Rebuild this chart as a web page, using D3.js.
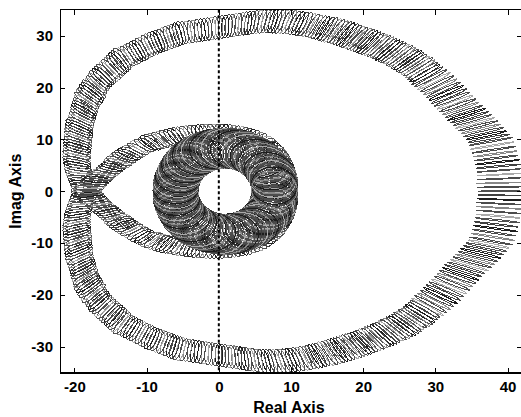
<!DOCTYPE html>
<html><head><meta charset="utf-8">
<script src="https://cdn.jsdelivr.net/npm/d3@7"></script>
<style>body{margin:0;background:#fff}svg{display:block}</style>
</head><body><svg id="c" width="521" height="417"></svg>
<script>
// ---------------- data ----------------
const xTicks = [-20, -10, 0, 10, 20, 30, 40];
const yTicks = [-30, -20, -10, 0, 10, 20, 30];
const xDomain = [-22, 42];
const yDomain = [-35, 35];
const xLabel = "Real Axis";
const yLabel = "Imag Axis";

// Nyquist template centres (one frequency branch; the other branch is its complex conjugate)
const bandRe = [
39.0,39.0,38.9,38.9,38.8,38.8,38.7,38.6,38.4,38.3,38.1,37.9,37.7,
37.4,37.05,36.7,36.3,35.9,35.5,35.1,34.7,34.3,33.9,33.5,33.1,32.7,32.3,31.9,31.5,31.1,30.7,30.25,29.8,29.35,28.9,
28.55,28.25,27.9,27.6,27.25,26.85,26.5,26.15,25.8,25.4,25.0,24.6,24.2,23.8,23.4,23.0,22.6,22.15,21.75,21.35,20.9,20.5,
20.1,19.65,19.25,18.85,18.4,18.0,17.55,17.1,16.65,16.2,15.75,15.3,14.85,14.35,13.9,13.4,12.95,12.5,12.0,11.5,11.0,10.5,10.0,9.5,
9.0,8.5,8.0,7.5,7.0,6.5,6.0,5.5,5.0,4.5,4.05,3.6,3.15,2.7,2.25,1.8,1.35,0.9,0.45,0.0,
-0.48,-0.96,-1.45,-1.93,-2.41,-2.89,-3.37,-3.85,-4.34,-4.82,-5.3,
-5.72,-6.14,-6.56,-6.98,-7.4,-7.82,-8.24,-8.66,-9.08,-9.5,
-9.89,-10.28,-10.67,-11.06,-11.45,-11.84,-12.23,-12.62,-13.01,-13.4,
-13.71,-14.02,-14.33,-14.64,-14.95,-15.26,-15.57,-15.88,-16.19,-16.5,
-16.7,-16.9,-17.1,-17.3,-17.5,-17.7,-17.9,-18.1,-18.3,
-18.4,-18.5,-18.6,-18.7,-18.8,-18.9,-19.0,-19.1,-19.2,-19.3,
-19.35,-19.4,-19.45,-19.5,-19.52,-19.55,-19.58,-19.61,-19.64,-19.67,-19.7,
-19.7,-19.7,-19.65,-19.6,-19.55,-19.5,
-19.4,-19.3,-19.18,-19.05,-18.9,-18.75,-18.58,-18.4,-18.18,-17.95,
-17.7,-17.45,-17.18,-16.9,-16.6,-16.3,-15.98,-15.65,-15.32,-15.0,
-14.7,-14.4,-14.1,-13.8,-13.48,-13.15,-12.8,-12.45,-12.05,-11.65,
-11.22,-10.8,-10.35,-9.9,-9.45,-9.0,-8.52,-8.05,-7.58,-7.1,
-6.6,-6.1,-5.6,-5.1,-4.6,-4.1,-3.6,-3.1,-2.6,-2.1,
-1.6,-1.1,-0.6,-0.1,0.4,0.9,1.4,1.9,2.4,2.9,
3.38,3.85,4.32,4.8,5.25,5.7];
const bandIm = [
0.0,0.8,1.6,2.4,3.2,4.0,4.8,5.6,6.4,7.2,8.0,8.8,9.6,
10.2,10.8,11.4,12.0,12.6,13.15,13.7,14.25,14.8,15.35,15.95,16.55,17.15,17.75,18.35,18.95,19.55,20.15,20.7,21.25,21.8,22.3,
22.75,23.15,23.6,24.0,24.3,24.6,24.95,25.25,25.55,25.9,26.15,26.45,26.7,26.95,27.25,27.5,27.75,28.0,28.2,28.45,28.65,28.9,
29.1,29.3,29.5,29.7,29.9,30.1,30.3,30.5,30.65,30.85,31.0,31.2,31.35,31.5,31.65,31.8,31.95,32.1,32.2,32.3,32.4,32.5,32.6,32.7,
32.72,32.75,32.78,32.8,32.8,32.8,32.75,32.7,32.6,32.5,32.43,32.35,32.25,32.15,32.05,31.95,31.88,31.8,31.7,31.6,
31.5,31.4,31.3,31.2,31.1,31.0,30.9,30.8,30.7,30.6,30.5,
30.3,30.08,29.86,29.64,29.4,29.18,28.96,28.74,28.52,28.3,
28.02,27.74,27.46,27.18,26.9,26.62,26.34,26.06,25.78,25.5,
25.1,24.7,24.3,23.9,23.5,23.1,22.7,22.3,21.9,21.5,
21.05,20.6,20.15,19.7,19.3,18.85,18.4,17.95,17.5,
17.0,16.5,16.0,15.5,15.0,14.5,14.0,13.5,13.0,12.5,
12.0,11.5,11.0,10.5,10.0,9.5,9.0,8.5,8.0,7.5,7.0,
6.5,6.0,5.5,5.0,4.5,4.0,
3.5,3.0,2.52,2.05,1.58,1.1,0.65,0.2,-0.23,-0.65,
-1.05,-1.45,-1.83,-2.2,-2.58,-2.95,-3.3,-3.65,-4.03,-4.4,
-4.75,-5.1,-5.45,-5.8,-6.15,-6.5,-6.83,-7.15,-7.48,-7.8,
-8.18,-8.55,-8.83,-9.1,-9.33,-9.55,-9.75,-9.95,-10.13,-10.3,
-10.45,-10.6,-10.73,-10.85,-10.95,-11.05,-11.13,-11.2,-11.25,-11.3,
-11.33,-11.35,-11.35,-11.35,-11.33,-11.3,-11.23,-11.15,-11.05,-10.95,
-10.8,-10.65,-10.45,-10.25,-10.0,-9.75];
// template size along the band: [first point index, relative gain spread]
const bandGainTable = [[0,0.078],[13,0.075],[35,0.072],[70,0.069],[111,0.072],[131,0.08],[145,0.088],[160,0.096],[185,0.11],[200,0.125],[212,0.14]];
// template size along the band: [first point index, phase spread in degrees]
const bandPhaseTable = [[0,0.12],[6,0.2],[13,0.3],[24,0.4],[35,0.5],[55,0.65],[75,0.8],[95,0.9],[111,1.0],[131,1.15],[150,1.3],[165,1.5],[185,1.9],[200,2.3],[212,2.8]];

// high-frequency part, in polar form (phase in degrees, magnitude, relative gain spread)
const ringPhase = [-56,-53,-50,-47,-44,-41,-38,-35,-32,-29,-26,-23,-20,-17,-14,-11,-8,-5,-2,
1,4,7,10,13,16,19,22,25,28,31,34,37,40,43,46,49,52,55,58,61,64,67,70,73,76,79,82,85,88,91,94,97,100,103,106,109,112,115,118,121,124,127,130,133,136,139,142,145,148,151,154,157,160,163,166,169,172,175,178,181,
184,187,190,193,196,199,202,205,208,211,214,217,220,223,226,229,232,235,238,241,244,247,250,253,256,259,262,265,268,271,274,277,280,283,286,289,292,295,298,301,304,307,310,313,316,319,322,325,328,331,334,337,340,343,346,349,352,355,358];
const ringMag = [10.95,10.7,10.45,10.2,9.95,9.7,9.45,9.2,9.0,8.8,8.6,8.45,8.3,8.15,8.05,7.95,7.85,7.78,7.73,
7.70,7.70,7.71,7.72,7.74,7.76,7.79,7.82,7.85,7.89,7.93,7.97,8.02,8.07,8.11,8.16,8.21,8.25,8.30,8.34,8.37,8.40,8.42,8.43,8.43,8.43,8.41,8.39,8.34,8.29,8.24,8.16,8.08,8.00,7.90,7.80,7.69,7.59,7.48,7.37,7.25,7.15,7.04,6.93,6.83,6.73,6.64,6.55,6.47,6.40,6.33,6.27,6.21,6.16,6.12,6.08,6.05,6.03,6.01,6.00,6.00,
6.00,6.01,6.03,6.05,6.08,6.12,6.16,6.21,6.27,6.33,6.40,6.47,6.55,6.64,6.73,6.83,6.93,7.04,7.15,7.25,7.37,7.48,7.59,7.69,7.80,7.90,8.00,8.08,8.16,8.24,8.29,8.34,8.39,8.41,8.43,8.43,8.43,8.42,8.40,8.37,8.34,8.30,8.25,8.21,8.16,8.11,8.07,8.02,7.97,7.93,7.89,7.85,7.82,7.79,7.76,7.74,7.72,7.71,7.70];
const ringGainTol = [0.16,0.18,0.195,0.21,0.23,0.25,0.265,0.28,0.30,0.315,0.33,0.345,0.36,0.375,0.385,0.395,0.40,0.405,0.41,
0.41,0.41,0.41,0.41,0.41,0.41,0.41,0.415,0.415,0.415,0.415,0.42,0.42,0.42,0.425,0.425,0.43,0.43,0.43,0.435,0.44,0.44,0.445,0.45,0.45,0.455,0.46,0.46,0.46,0.465,0.465,0.47,0.47,0.475,0.48,0.48,0.485,0.485,0.49,0.49,0.49,0.495,0.495,0.50,0.50,0.50,0.505,0.505,0.51,0.51,0.51,0.515,0.515,0.515,0.52,0.52,0.52,0.52,0.52,0.52,0.52,
0.52,0.52,0.52,0.52,0.52,0.52,0.515,0.515,0.515,0.51,0.51,0.51,0.505,0.505,0.50,0.50,0.50,0.495,0.495,0.49,0.49,0.49,0.485,0.485,0.48,0.48,0.475,0.47,0.47,0.465,0.465,0.46,0.46,0.46,0.455,0.45,0.45,0.445,0.44,0.44,0.435,0.43,0.43,0.43,0.425,0.425,0.42,0.42,0.42,0.415,0.415,0.415,0.415,0.41,0.41,0.41,0.41,0.41,0.41];
// phase spread of the high-frequency templates: [first point index, degrees]
const ringPhaseTable = [[0,5],[3,9],[6,13],[9,17],[12,21],[15,25]];

// MATLAB colour order as it appears in greyscale
const lineGrays = ["#1d1d1d", "#4b4b4b", "#868686", "#4c4c4c", "#a9a9a9", "#4f4f4f", "#404040"];

// ---------------- drawing ----------------
const W = 521, H = 417;
const L = 60, R = 522, T = 9.8, B = 372.6;
const svg = d3.select("#c");
const x = d3.scaleLinear().domain(xDomain).range([L, R]);
const y = d3.scaleLinear().domain(yDomain).range([B, T]);
const font = "'Liberation Sans', Arial, Helvetica, sans-serif";

svg.append("clipPath").attr("id", "clip")
  .append("rect").attr("x", L).attr("y", T).attr("width", R - L).attr("height", B - T);

function fromTable(table, i) {
  let v = table[0][1];
  for (const [start, val] of table) if (i >= start) v = val;
  return v;
}

const tpl = [];
const nb = Math.min(bandRe.length, bandIm.length);
for (let i = 0; i < nb; i++) {
  tpl.push({ re: bandRe[i], im: bandIm[i], g: fromTable(bandGainTable, i), p: fromTable(bandPhaseTable, i) });
}
const nr = Math.min(ringPhase.length, ringMag.length, ringGainTol.length);
for (let i = 0; i < nr; i++) {
  const a = ringPhase[i] * Math.PI / 180;
  tpl.push({ re: ringMag[i] * Math.cos(a), im: ringMag[i] * Math.sin(a), g: ringGainTol[i], p: fromTable(ringPhaseTable, i) });
}
const all = [];
tpl.forEach(t => all.push(t));
tpl.forEach(t => all.push({ re: t.re, im: -t.im, g: t.g, p: t.p }));

const N = 48;
const line = d3.line().curve(d3.curveLinearClosed);
function ellipsePath(t) {
  const r = Math.hypot(t.re, t.im);
  const ux = t.re / r, uy = t.im / r;
  const a = t.g * r, b = r * Math.tan(t.p * Math.PI / 180);
  const pts = [];
  for (let j = 0; j < N; j++) {
    const th = 2 * Math.PI * j / N;
    const c = Math.cos(th) * a, s = Math.sin(th) * b;
    pts.push([x(t.re + c * ux - s * uy), y(t.im + c * uy + s * ux)]);
  }
  return line(pts);
}

svg.append("g").attr("clip-path", "url(#clip)")
  .selectAll("path").data(all).join("path")
  .attr("d", ellipsePath)
  .attr("fill", "none")
  .attr("stroke", (d, i) => lineGrays[i % lineGrays.length])
  .attr("stroke-width", 1)
  .attr("shape-rendering", "crispEdges");

// dotted line on the imaginary axis
svg.append("line")
  .attr("x1", x(0)).attr("x2", x(0)).attr("y1", y(yDomain[1])).attr("y2", y(yDomain[0]))
  .attr("stroke", "#000").attr("stroke-width", 2).attr("stroke-dasharray", "3,2.5");

// axes
const fmt = d => String(d);
const gb = svg.append("g").attr("transform", `translate(0,${B})`)
  .call(d3.axisBottom(x).tickValues(xTicks).tickSizeInner(-5).tickSizeOuter(0).tickPadding(9).tickFormat(fmt));
const gt = svg.append("g").attr("transform", `translate(0,${T})`)
  .call(d3.axisTop(x).tickValues(xTicks).tickSizeInner(-5).tickSizeOuter(0).tickFormat(""));
const gl = svg.append("g").attr("transform", `translate(${L},0)`)
  .call(d3.axisLeft(y).tickValues(yTicks).tickSizeInner(-5).tickSizeOuter(0).tickPadding(7).tickFormat(fmt));
const gr = svg.append("g").attr("transform", `translate(${R},0)`)
  .call(d3.axisRight(y).tickValues(yTicks).tickSizeInner(-5).tickSizeOuter(0).tickFormat(""));
[gb, gt, gl, gr].forEach(g => {
  g.select(".domain").remove();
  g.selectAll("line").attr("stroke", "#000").attr("shape-rendering", "crispEdges");
  g.selectAll("text").attr("fill", "#000").style("font-family", font)
    .style("font-size", "15px").style("font-weight", "bold");
});

// box
svg.append("line").attr("x1", L).attr("x2", W).attr("y1", 9.5).attr("y2", 9.5).attr("stroke", "#000").attr("stroke-width", 1);
svg.append("line").attr("x1", L).attr("x2", W).attr("y1", 373).attr("y2", 373).attr("stroke", "#000").attr("stroke-width", 2);
svg.append("line").attr("x1", 60.5).attr("x2", 60.5).attr("y1", 9).attr("y2", 374).attr("stroke", "#000").attr("stroke-width", 1);

// axis labels
svg.append("text").text(xLabel)
  .attr("x", (L + R) / 2 - 2).attr("y", 413).attr("text-anchor", "middle")
  .style("font-family", font).style("font-size", "16px").style("font-weight", "bold");
svg.append("text").text(yLabel)
  .attr("transform", `translate(20.7,${(T + B) / 2}) rotate(-90)`).attr("text-anchor", "middle")
  .style("font-family", font).style("font-size", "16px").style("font-weight", "bold");
</script>
</body></html>
